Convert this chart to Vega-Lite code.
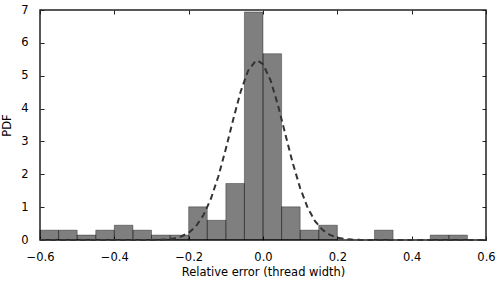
{
  "$schema": "https://vega.github.io/schema/vega-lite/v6.json",
  "width": 446,
  "height": 230,
  "autosize": "none",
  "padding": {"left": 40, "top": 10, "right": 14, "bottom": 45},
  "background": "white",
  "config": {
    "view": {"stroke": "#222", "strokeWidth": 1.5},
    "font": "DejaVu Sans",
    "axis": {
      "grid": false,
      "domain": false,
      "labelFlush": false,
      "labelOverlap": false,
      "tickColor": "#222",
      "tickSize": -4,
      "tickWidth": 1,
      "labelFont": "DejaVu Sans",
      "labelFontSize": 11.5,
      "labelColor": "#000",
      "titleFont": "DejaVu Sans",
      "titleFontSize": 11.5,
      "titleFontWeight": "normal",
      "titleColor": "#000"
    }
  },
  "datasets": {
    "bins": [
      {"x0": -0.60, "x1": -0.55, "pdf": 0.30},
      {"x0": -0.55, "x1": -0.50, "pdf": 0.30},
      {"x0": -0.50, "x1": -0.45, "pdf": 0.15},
      {"x0": -0.45, "x1": -0.40, "pdf": 0.30},
      {"x0": -0.40, "x1": -0.35, "pdf": 0.45},
      {"x0": -0.35, "x1": -0.30, "pdf": 0.30},
      {"x0": -0.30, "x1": -0.25, "pdf": 0.15},
      {"x0": -0.25, "x1": -0.20, "pdf": 0.15},
      {"x0": -0.20, "x1": -0.15, "pdf": 1.01},
      {"x0": -0.15, "x1": -0.10, "pdf": 0.60},
      {"x0": -0.10, "x1": -0.05, "pdf": 1.72},
      {"x0": -0.05, "x1": 0.00, "pdf": 6.94},
      {"x0": 0.00, "x1": 0.05, "pdf": 5.67},
      {"x0": 0.05, "x1": 0.10, "pdf": 1.01},
      {"x0": 0.10, "x1": 0.15, "pdf": 0.30},
      {"x0": 0.15, "x1": 0.20, "pdf": 0.45},
      {"x0": 0.30, "x1": 0.35, "pdf": 0.30},
      {"x0": 0.45, "x1": 0.50, "pdf": 0.15},
      {"x0": 0.50, "x1": 0.55, "pdf": 0.15}
    ],
    "curve": [
      {"x": -0.60, "y": 0},
      {"x": -0.35, "y": 0.0001},
      {"x": -0.30, "y": 0.0027},
      {"x": -0.28, "y": 0.0075},
      {"x": -0.26, "y": 0.0196},
      {"x": -0.24, "y": 0.0473},
      {"x": -0.22, "y": 0.106},
      {"x": -0.20, "y": 0.220},
      {"x": -0.18, "y": 0.425},
      {"x": -0.16, "y": 0.760},
      {"x": -0.14, "y": 1.262},
      {"x": -0.12, "y": 1.942},
      {"x": -0.10, "y": 2.775},
      {"x": -0.08, "y": 3.676},
      {"x": -0.06, "y": 4.520},
      {"x": -0.04, "y": 5.154},
      {"x": -0.02, "y": 5.452},
      {"x": -0.015, "y": 5.465},
      {"x": 0.00, "y": 5.351},
      {"x": 0.02, "y": 4.871},
      {"x": 0.04, "y": 4.115},
      {"x": 0.06, "y": 3.224},
      {"x": 0.08, "y": 2.343},
      {"x": 0.10, "y": 1.580},
      {"x": 0.12, "y": 0.989},
      {"x": 0.14, "y": 0.574},
      {"x": 0.16, "y": 0.309},
      {"x": 0.18, "y": 0.154},
      {"x": 0.20, "y": 0.0715},
      {"x": 0.22, "y": 0.0308},
      {"x": 0.24, "y": 0.0123},
      {"x": 0.26, "y": 0.0045},
      {"x": 0.30, "y": 0.0005},
      {"x": 0.60, "y": 0}
    ]
  },
  "layer": [
    {
      "data": {"name": "bins"},
      "mark": {"type": "rect", "fill": "#000", "fillOpacity": 0.5, "stroke": "#000", "strokeOpacity": 0.35, "strokeWidth": 1},
      "encoding": {
        "x": {
          "field": "x0", "type": "quantitative",
          "scale": {"domain": [-0.6, 0.6], "nice": false, "zero": false},
          "axis": {"orient": "bottom", "values": [-0.6, -0.4, -0.2, 0, 0.2, 0.4, 0.6], "format": ".1f", "title": "Relative error (thread width)", "labelPadding": 15, "titlePadding": 4}
        },
        "x2": {"field": "x1"},
        "y": {
          "field": "pdf", "type": "quantitative",
          "scale": {"domain": [0, 7], "nice": false, "zero": false},
          "axis": {"orient": "left", "values": [0, 1, 2, 3, 4, 5, 6, 7], "title": "PDF", "labelPadding": 16, "titlePadding": 8}
        },
        "y2": {"datum": 0}
      }
    },
    {
      "data": {"name": "curve"},
      "mark": {"type": "line", "strokeDash": [6, 4], "color": "#333", "strokeWidth": 2},
      "encoding": {
        "x": {"field": "x", "type": "quantitative", "scale": {"domain": [-0.6, 0.6], "nice": false, "zero": false}, "axis": {"orient": "top", "labels": false, "title": null, "values": [-0.6, -0.4, -0.2, 0, 0.2, 0.4, 0.6]}},
        "y": {"field": "y", "type": "quantitative", "scale": {"domain": [0, 7], "nice": false, "zero": false}, "axis": {"orient": "right", "labels": false, "title": null, "values": [0, 1, 2, 3, 4, 5, 6, 7]}}
      }
    }
  ],
  "resolve": {"axis": {"x": "independent", "y": "independent"}}
}
